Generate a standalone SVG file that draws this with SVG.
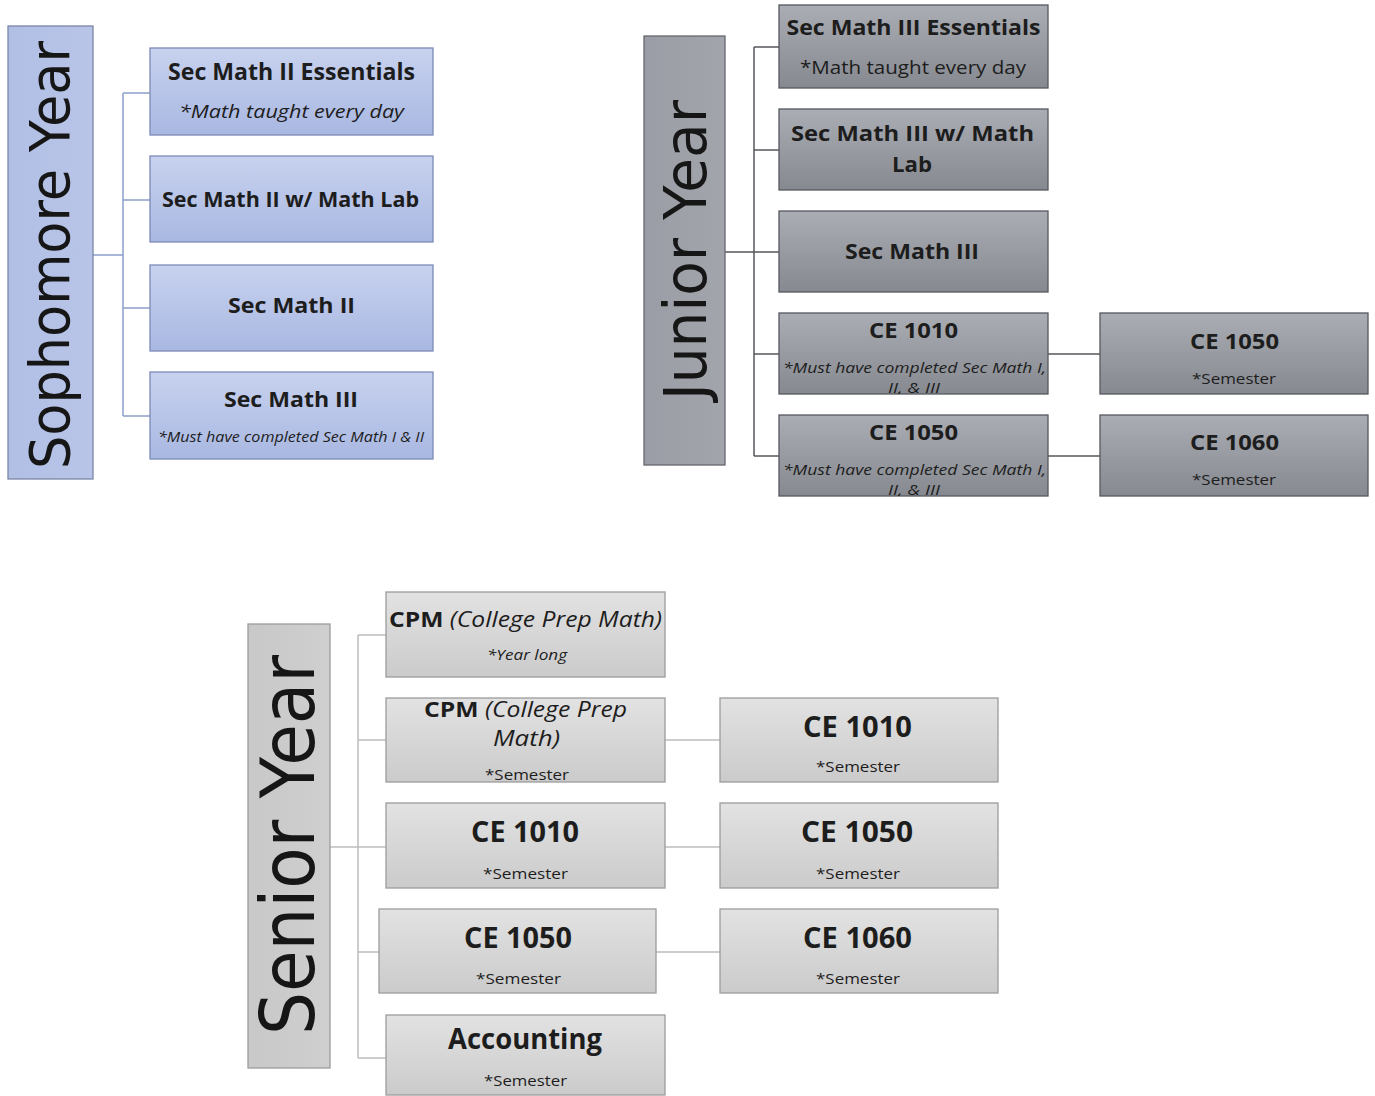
<svg xmlns="http://www.w3.org/2000/svg" width="1375" height="1096" viewBox="0 0 1375 1096">
<defs>
<linearGradient id="gs" x1="0" y1="0" x2="0" y2="1"><stop offset="0" stop-color="#c8d2ef"/><stop offset="1" stop-color="#a9b8e2"/></linearGradient>
<linearGradient id="gsh" x1="0" y1="0" x2="1" y2="0"><stop offset="0" stop-color="#b2bfe5"/><stop offset="1" stop-color="#b8c5e8"/></linearGradient>
<linearGradient id="gj" x1="0" y1="0" x2="0" y2="1"><stop offset="0" stop-color="#aaadb4"/><stop offset="1" stop-color="#86898f"/></linearGradient>
<linearGradient id="gjh" x1="0" y1="0" x2="1" y2="0"><stop offset="0" stop-color="#9a9da5"/><stop offset="1" stop-color="#a2a5ab"/></linearGradient>
<linearGradient id="gn" x1="0" y1="0" x2="0" y2="1"><stop offset="0" stop-color="#e2e2e2"/><stop offset="1" stop-color="#cbcbcb"/></linearGradient>
<linearGradient id="gnh" x1="0" y1="0" x2="1" y2="0"><stop offset="0" stop-color="#c8c8c8"/><stop offset="1" stop-color="#cfcfcf"/></linearGradient>
<clipPath id="cj4"><rect x="779" y="313" width="269" height="81"/></clipPath>
<clipPath id="cj5"><rect x="779" y="415" width="269" height="81"/></clipPath>
<clipPath id="cn2"><rect x="386" y="698" width="279" height="84"/></clipPath>
</defs>
<style>
text{font-family:"Open Sans","DejaVu Sans",sans-serif;fill:#1d1d1d;text-anchor:middle}
.t{font-weight:bold}
.big{font-family:"DejaVu Sans","Open Sans",sans-serif;font-weight:normal;fill:#161616}
.it{font-style:italic}
.bs{fill:url(#gs);stroke:#7b8bb6;stroke-width:1.3}
.hs{fill:url(#gsh);stroke:#7a86a6;stroke-width:1.3}
.bj{fill:url(#gj);stroke:#55585e;stroke-width:1.3}
.hj{fill:url(#gjh);stroke:#65686e;stroke-width:1.3}
.bn{fill:url(#gn);stroke:#9c9c9c;stroke-width:1.3}
.hn{fill:url(#gnh);stroke:#9c9c9c;stroke-width:1.3}
.cs{fill:none;stroke:#8d9fca;stroke-width:1.5}
.cj{fill:none;stroke:#55585e;stroke-width:1.5}
.cn{fill:none;stroke:#bdbdbd;stroke-width:1.5}
</style>

<g id="connectors">
<path class="cs" d="M93 255H123M123 93V416M123 93H150M123 200H150M123 308H150M123 416H150"/>
<path class="cj" d="M725 252H754M754 47V456M754 47H779M754 150H779M754 252H779M754 354H779M754 456H779M1048 354H1100M1048 456H1100"/>
<path class="cn" d="M330 847H358M358 635V1058M358 635H386M358 740H386M358 847H386M358 952H379M358 1058H386M665 740H720M665 847H720M656 952H720"/>
</g>

<g id="sophomore-year">
<rect class="hs" x="8" y="26" width="85" height="453"/>
<text class="big" transform="translate(69,255) rotate(-90)" font-size="56" textLength="428" lengthAdjust="spacingAndGlyphs">Sophomore Year</text>
</g>
<g id="soph-essentials">
<rect class="bs" x="150" y="48" width="283" height="87"/>
<text class="t" x="291.5" y="80" font-size="23" textLength="247" lengthAdjust="spacingAndGlyphs">Sec Math II Essentials</text>
<text class="it" x="291.5" y="118" font-size="19" textLength="225" lengthAdjust="spacingAndGlyphs">*Math taught every day</text>
</g>
<g id="soph-lab">
<rect class="bs" x="150" y="156" width="283" height="86"/>
<text class="t" x="290.5" y="207" font-size="22" textLength="257" lengthAdjust="spacingAndGlyphs">Sec Math II w/ Math Lab</text>
</g>
<g id="soph-math2">
<rect class="bs" x="150" y="265" width="283" height="86"/>
<text class="t" x="291.5" y="313" font-size="22" textLength="127" lengthAdjust="spacingAndGlyphs">Sec Math II</text>
</g>
<g id="soph-math3">
<rect class="bs" x="150" y="372" width="283" height="87"/>
<text class="t" x="291" y="407" font-size="22" textLength="134" lengthAdjust="spacingAndGlyphs">Sec Math III</text>
<text class="it" x="291" y="442" font-size="14" textLength="266" lengthAdjust="spacingAndGlyphs">*Must have completed Sec Math I &amp; II</text>
</g>

<g id="junior-year">
<rect class="hj" x="644" y="36" width="81" height="429"/>
<text class="big" transform="translate(706,250) rotate(-90)" font-size="59" textLength="300" lengthAdjust="spacingAndGlyphs">Junior Year</text>
</g>
<g id="jun-essentials">
<rect class="bj" x="779" y="5" width="269" height="83"/>
<text class="t" x="913.5" y="35" font-size="22" textLength="254" lengthAdjust="spacingAndGlyphs">Sec Math III Essentials</text>
<text x="913" y="74" font-size="19" textLength="226" lengthAdjust="spacingAndGlyphs">*Math taught every day</text>
</g>
<g id="jun-lab">
<rect class="bj" x="779" y="109" width="269" height="81"/>
<text class="t" x="912.5" y="141" font-size="22" textLength="243" lengthAdjust="spacingAndGlyphs">Sec Math III w/ Math</text>
<text class="t" x="912" y="172" font-size="22" textLength="40" lengthAdjust="spacingAndGlyphs">Lab</text>
</g>
<g id="jun-math3">
<rect class="bj" x="779" y="211" width="269" height="81"/>
<text class="t" x="912" y="259" font-size="22" textLength="134" lengthAdjust="spacingAndGlyphs">Sec Math III</text>
</g>
<g id="jun-ce1010">
<rect class="bj" x="779" y="313" width="269" height="81"/>
<text class="t" x="913.5" y="338" font-size="22" textLength="89" lengthAdjust="spacingAndGlyphs">CE 1010</text>
<g clip-path="url(#cj4)">
<text class="it" x="914.5" y="373" font-size="15" textLength="263" lengthAdjust="spacingAndGlyphs">*Must have completed Sec Math I,</text>
<text class="it" x="914" y="393" font-size="15" textLength="52" lengthAdjust="spacingAndGlyphs">II, &amp; III</text>
</g>
</g>
<g id="jun-ce1050">
<rect class="bj" x="779" y="415" width="269" height="81"/>
<text class="t" x="913.5" y="440" font-size="22" textLength="89" lengthAdjust="spacingAndGlyphs">CE 1050</text>
<g clip-path="url(#cj5)">
<text class="it" x="914.5" y="475" font-size="15" textLength="263" lengthAdjust="spacingAndGlyphs">*Must have completed Sec Math I,</text>
<text class="it" x="914" y="495" font-size="15" textLength="52" lengthAdjust="spacingAndGlyphs">II, &amp; III</text>
</g>
</g>
<g id="jun-ce1050-r">
<rect class="bj" x="1100" y="313" width="268" height="81"/>
<text class="t" x="1234.5" y="349" font-size="22" textLength="89" lengthAdjust="spacingAndGlyphs">CE 1050</text>
<text x="1234" y="384" font-size="15" textLength="84" lengthAdjust="spacingAndGlyphs">*Semester</text>
</g>
<g id="jun-ce1060-r">
<rect class="bj" x="1100" y="415" width="268" height="81"/>
<text class="t" x="1234.5" y="450" font-size="22" textLength="89" lengthAdjust="spacingAndGlyphs">CE 1060</text>
<text x="1234" y="485" font-size="15" textLength="84" lengthAdjust="spacingAndGlyphs">*Semester</text>
</g>

<g id="senior-year">
<rect class="hn" x="248" y="624" width="82" height="444"/>
<text class="big" transform="translate(314,845) rotate(-90)" font-size="75" textLength="380" lengthAdjust="spacingAndGlyphs">Senior Year</text>
</g>
<g id="sen-cpm-year">
<rect class="bn" x="386" y="592" width="279" height="85"/>
<text x="525.5" y="627" font-size="21" textLength="273" lengthAdjust="spacingAndGlyphs"><tspan class="t">CPM</tspan><tspan class="it"> (College  Prep  Math)</tspan></text>
<text class="it" x="527" y="660" font-size="15" textLength="80" lengthAdjust="spacingAndGlyphs">*Year long</text>
</g>
<g id="sen-cpm-sem">
<rect class="bn" x="386" y="698" width="279" height="84"/>
<g clip-path="url(#cn2)">
<text x="525.5" y="717" font-size="21" textLength="203" lengthAdjust="spacingAndGlyphs"><tspan class="t">CPM</tspan><tspan class="it">  (College  Prep</tspan></text>
<text class="it" x="526.5" y="746" font-size="22" textLength="67" lengthAdjust="spacingAndGlyphs">Math)</text>
<text x="527" y="780" font-size="15" textLength="84" lengthAdjust="spacingAndGlyphs">*Semester</text>
</g>
</g>
<g id="sen-ce1010">
<rect class="bn" x="386" y="803" width="279" height="85"/>
<text class="t" x="525" y="842" font-size="28" textLength="108" lengthAdjust="spacingAndGlyphs">CE 1010</text>
<text x="525.5" y="879" font-size="15" textLength="85" lengthAdjust="spacingAndGlyphs">*Semester</text>
</g>
<g id="sen-ce1050">
<rect class="bn" x="379" y="909" width="277" height="84"/>
<text class="t" x="518" y="948" font-size="28" textLength="108" lengthAdjust="spacingAndGlyphs">CE 1050</text>
<text x="518.5" y="984" font-size="15" textLength="85" lengthAdjust="spacingAndGlyphs">*Semester</text>
</g>
<g id="sen-accounting">
<rect class="bn" x="386" y="1015" width="279" height="80"/>
<text class="t" x="525" y="1049" font-size="28" textLength="154" lengthAdjust="spacingAndGlyphs">Accounting</text>
<text x="525.5" y="1086" font-size="15" textLength="83" lengthAdjust="spacingAndGlyphs">*Semester</text>
</g>
<g id="sen-ce1010-r">
<rect class="bn" x="720" y="698" width="278" height="84"/>
<text class="t" x="857.5" y="737" font-size="28" textLength="109" lengthAdjust="spacingAndGlyphs">CE 1010</text>
<text x="858" y="772" font-size="15" textLength="84" lengthAdjust="spacingAndGlyphs">*Semester</text>
</g>
<g id="sen-ce1050-r">
<rect class="bn" x="720" y="803" width="278" height="85"/>
<text class="t" x="857" y="842" font-size="28" textLength="112" lengthAdjust="spacingAndGlyphs">CE 1050</text>
<text x="858" y="879" font-size="15" textLength="84" lengthAdjust="spacingAndGlyphs">*Semester</text>
</g>
<g id="sen-ce1060-r">
<rect class="bn" x="720" y="909" width="278" height="84"/>
<text class="t" x="857.5" y="948" font-size="28" textLength="109" lengthAdjust="spacingAndGlyphs">CE 1060</text>
<text x="858" y="984" font-size="15" textLength="84" lengthAdjust="spacingAndGlyphs">*Semester</text>
</g>
</svg>
